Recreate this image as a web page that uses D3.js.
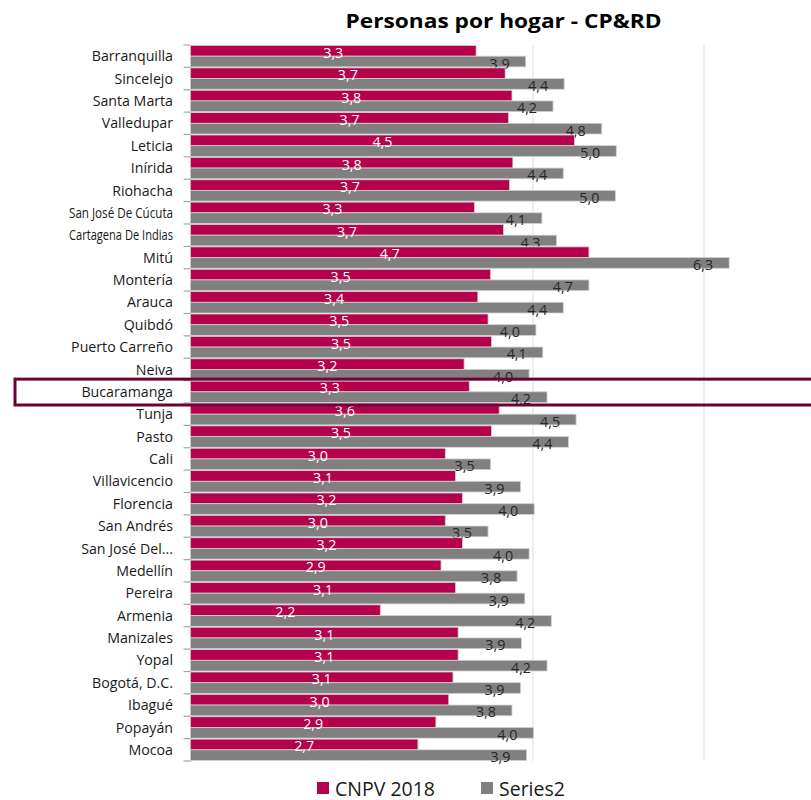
<!DOCTYPE html>
<html><head><meta charset="utf-8">
<script src="https://cdn.jsdelivr.net/npm/d3@7"></script>
<style>body{margin:0;background:#fff}svg{display:block}text{font-family:"Open Sans","Noto Sans",sans-serif}</style>
</head><body>
<svg id="c" width="811" height="800"></svg>
<script>
const title = "Personas por hogar - CP&RD";
const categories = ["Barranquilla","Sincelejo","Santa Marta","Valledupar","Leticia","Inírida","Riohacha","San José De Cúcuta","Cartagena De Indias","Mitú","Montería","Arauca","Quibdó","Puerto Carreño","Neiva","Bucaramanga","Tunja","Pasto","Cali","Villavicencio","Florencia","San Andrés","San José Del...","Medellín","Pereira","Armenia","Manizales","Yopal","Bogotá, D.C.","Ibagué","Popayán","Mocoa"];
const cnpv2018 = [3.34,3.68,3.76,3.72,4.49,3.77,3.73,3.32,3.66,4.66,3.51,3.36,3.48,3.52,3.20,3.26,3.61,3.52,2.98,3.10,3.18,2.98,3.18,2.93,3.10,2.22,3.13,3.13,3.07,3.02,2.87,2.66];
const series2 = [3.92,4.37,4.24,4.81,4.98,4.36,4.97,4.11,4.28,6.30,4.66,4.36,4.04,4.12,3.96,4.17,4.51,4.42,3.51,3.86,4.02,3.48,3.96,3.82,3.91,4.22,3.87,4.17,3.86,3.76,4.01,3.93];
const seriesNames = ["CNPV 2018","Series2"];
const gridValues = [2,4,6];
const highlighted = "Bucaramanga";

const colors = ["#b5004b","#808080"];
const svg = d3.select("#c");
const x = d3.scaleLinear().domain([0,7]).range([190.5,789]);
const y = d3.scaleBand().domain(categories).range([45,761]).paddingInner(0).paddingOuter(0);
const sub = d3.scaleBand().domain([0,1]).range([0.5,y.bandwidth()-0.5]).padding(0);
const fmt = v => d3.format(".1f")(v).replace(".",",");

// title
const t = svg.append("text").attr("x",503.5).attr("y",27.5).attr("text-anchor","middle")
  .attr("font-size",19.5).attr("font-weight","bold").attr("fill","#000").text(title);
t.attr("textLength",316).attr("lengthAdjust","spacingAndGlyphs");

// gridlines
svg.append("g").selectAll("line").data(gridValues).join("line")
  .attr("x1",d=>x(d)+0.5).attr("x2",d=>x(d)+0.5).attr("y1",45).attr("y2",761)
  .attr("stroke","#e3e3e3").attr("stroke-width",1.2);

// y axis
const yAxis = d3.axisLeft(y).tickSize(0).tickPadding(17.5);
const ga = svg.append("g").attr("transform",`translate(${x(0)},0)`).call(yAxis);
ga.select(".domain").attr("stroke","#a6a6a6");
ga.selectAll(".tick text").attr("font-size",14.2).attr("fill","#1a1a1a")
  .attr("font-family","'Open Sans','Noto Sans',sans-serif").attr("dy","0.36em")
  .each(function(){ const w=this.getComputedTextLength(); if(w>104){ d3.select(this).attr("textLength",104).attr("lengthAdjust","spacingAndGlyphs"); } });
// boundary ticks
const bounds = categories.map(c=>y(c)).concat([y.range()[1]]);
svg.append("g").selectAll("line").data(bounds).join("line")
  .attr("x1",x(0)-7).attr("x2",x(0)).attr("y1",d=>d).attr("y2",d=>d)
  .attr("stroke","#a6a6a6").attr("stroke-width",1.2);

// bars
const rows = categories.map((c,i)=>({c, vals:[cnpv2018[i],series2[i]]}));
const g = svg.append("g").selectAll("g").data(rows).join("g").attr("transform",d=>`translate(0,${y(d.c)})`);
g.selectAll("rect").data(d=>d.vals.map((v,k)=>({v,k}))).join("rect")
  .attr("x",x(0)).attr("y",d=>sub(d.k)).attr("width",d=>x(d.v)-x(0)).attr("height",sub.bandwidth())
  .attr("fill",d=>colors[d.k]).attr("stroke","#cfcfcf").attr("stroke-width",0.8);
// labels
g.selectAll("text.l").data(d=>d.vals.map((v,k)=>({v,k}))).join("text").attr("class","l")
  .attr("x",d=>d.k===0?(x(0)+x(d.v))/2:x(d.v)-16)
  .attr("y",d=>sub(d.k)+sub.bandwidth()/2+2)
  .attr("dy","0.35em")
  .attr("text-anchor",d=>d.k===0?"middle":"end")
  .attr("font-size",14.3).attr("fill",d=>d.k===0?"#ffffff":"#262626").text(d=>fmt(d.v));

// highlight box
const hy = y(highlighted);
svg.append("rect").attr("x",15).attr("y",hy-1.5).attr("width",830).attr("height",y.bandwidth()+3.5)
  .attr("fill","none").attr("stroke","#6e0036").attr("stroke-width",3);

// legend
const lg = svg.append("g");
const lx = [317,481];
seriesNames.forEach((n,k)=>{
  lg.append("rect").attr("x",lx[k]).attr("y",782).attr("width",12).attr("height",12).attr("fill",colors[k]);
  lg.append("text").attr("x",lx[k]+18).attr("y",795.5).attr("font-size",19.5).attr("fill","#1a1a1a").text(n);
});
</script>
</body></html>
